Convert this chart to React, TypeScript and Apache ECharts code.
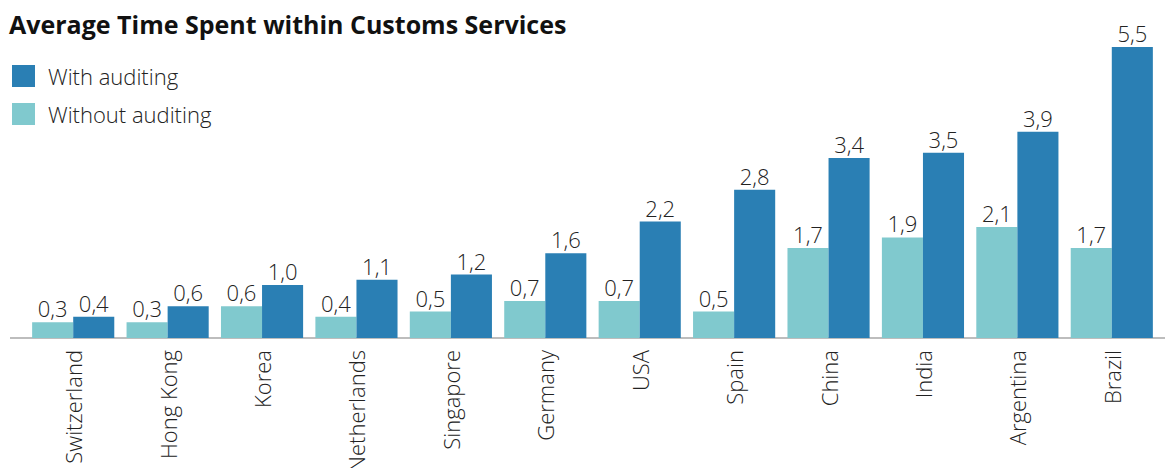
import React, { useEffect, useRef } from "react";
import * as echarts from "echarts";

const categories = ["Switzerland", "Hong Kong", "Korea", "Netherlands", "Singapore", "Germany", "USA", "Spain", "China", "India", "Argentina", "Brazil"];
const withoutAuditing = [0.3, 0.3, 0.6, 0.4, 0.5, 0.7, 0.7, 0.5, 1.7, 1.9, 2.1, 1.7];
const withAuditing = [0.4, 0.6, 1.0, 1.1, 1.2, 1.6, 2.2, 2.8, 3.4, 3.5, 3.9, 5.5];

const FONT = "'Open Sans', 'Noto Sans', sans-serif";
const DARK = "#2a7fb4";
const LIGHT = "#80c9ce";

export default function App() {
  const ref = useRef<HTMLDivElement>(null);
  useEffect(() => {
    document.body.style.margin = "0";
    const chart = echarts.init(ref.current!, undefined, { renderer: "svg" });
    const label = {
      show: true,
      position: "top" as const,
      distance: 3,
      fontSize: 22,
      fontWeight: 300,
      color: "#222",
      fontFamily: FONT,
      formatter: (p: any) => String(p.value.toFixed(1)).replace(".", ","),
    };
    chart.setOption({
      animation: false,
      textStyle: { fontFamily: FONT },
      title: {
        text: "Average Time Spent within Customs Services",
        left: 4,
        top: 6,
        textStyle: { fontSize: 25, fontWeight: "bold", color: "#111", fontFamily: FONT },
      },
      legend: {
        orient: "vertical",
        left: 12,
        top: 65,
        itemWidth: 23,
        itemHeight: 22,
        itemGap: 16,
        icon: "rect",
        padding: 0,
        data: ["With auditing", "Without auditing"],
        textStyle: { fontSize: 22, fontWeight: 300, color: "#222", fontFamily: FONT, padding: [0, 0, 0, 8] },
      },
      grid: { left: 26, right: 6, top: 47, bottom: 130, containLabel: false, outerBoundsMode: "none" },
      xAxis: {
        type: "category",
        data: categories,
        axisLine: { show: false },
        axisTick: { show: false },
        axisLabel: { rotate: 90, fontSize: 22, fontWeight: 300, color: "#222", margin: 12, fontFamily: FONT },
      },
      yAxis: {
        type: "value",
        min: 0,
        max: 5.5,
        show: false,
        splitLine: { show: false },
      },
      graphic: [
        { type: "line", z: 0, shape: { x1: 10, y1: 338, x2: 1165, y2: 338 }, style: { stroke: "#bdbdbd", lineWidth: 2 } },
      ],
      series: [
        {
          name: "Without auditing",
          type: "bar",
          data: withoutAuditing,
          barGap: "0%",
          barCategoryGap: "13%",
          itemStyle: { color: LIGHT },
          label,
          z: 2,
        },
        {
          name: "With auditing",
          type: "bar",
          data: withAuditing,
          barGap: "0%",
          barCategoryGap: "13%",
          itemStyle: { color: DARK },
          label,
          z: 2,
        },
      ],
    });
    return () => chart.dispose();
  }, []);
  return <div ref={ref} style={{ width: 1165, height: 468 }} />;
}
